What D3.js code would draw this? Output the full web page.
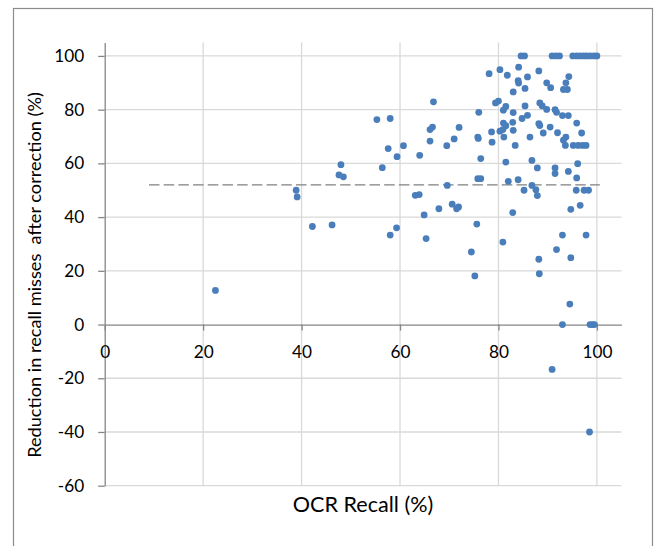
<!DOCTYPE html>
<html>
<head>
<meta charset="utf-8">
<script src="https://cdn.jsdelivr.net/npm/d3@7"></script>
<style>
  body { margin: 0; background: #fff; }
  text { font-family: Lato, "Open Sans", sans-serif; fill: #000; }
</style>
</head>
<body>
<svg id="chart" width="655" height="546"></svg>
<script>
// OCR recall (%) vs reduction in recall misses after correction (%)
const recall = [
  22.5, 38.9, 39.1, 42.2, 46.2, 48.0, 47.6, 48.5, 55.3, 58.0,
  57.6, 56.4, 59.4, 60.7, 58.0, 59.3, 64.0, 63.1, 63.9, 64.9,
  65.3, 66.1, 66.1, 66.6, 66.8, 67.9, 69.5, 69.6, 70.6, 71.0,
  71.5, 71.9, 72.0, 74.5, 75.2, 75.6, 75.8, 75.9, 76.0, 76.4,
  75.8, 76.4, 78.1, 78.6, 78.7, 79.4, 80.0, 80.3, 80.3, 80.9,
  81.0, 81.5, 81.1, 81.0, 81.5, 80.9, 81.5, 81.8, 82.0, 82.9,
  83.0, 83.0, 82.9, 83.0, 83.4, 84.1, 84.0, 84.1, 84.0, 84.6,
  85.3, 84.8, 85.4, 85.4, 85.2, 85.9, 85.9, 86.4, 86.8, 86.8,
  87.6, 87.9, 87.9, 88.2, 88.3, 88.2, 88.4, 88.9, 88.2, 88.4,
  89.1, 89.8, 89.8, 90.6, 90.5, 90.9, 91.7, 92.4, 91.5, 91.8,
  91.5, 91.5, 91.8, 92.0, 90.9, 93.0, 93.0, 93.0, 93.2, 93.7,
  94.0, 94.3, 93.2, 93.6, 93.7, 94.2, 94.2, 94.7, 94.7, 94.5,
  95.1, 95.9, 96.6, 97.3, 97.9, 98.6, 99.4, 100.0, 95.2, 96.2,
  97.1, 97.8, 95.9, 96.1, 95.9, 95.8, 97.4, 98.3, 96.6, 96.9,
  97.8, 98.6, 99.1, 99.5, 98.5
];
const reduction = [
  12.7, 50.0, 47.5, 36.5, 37.1, 59.5, 55.7, 55.0, 76.3, 76.7,
  65.5, 58.4, 62.5, 66.6, 33.3, 36.0, 63.0, 48.1, 48.4, 40.8,
  32.0, 68.3, 72.6, 73.5, 82.9, 43.1, 66.6, 51.8, 44.8, 69.1,
  43.1, 43.8, 73.4, 27.0, 18.1, 37.4, 69.8, 69.3, 79.0, 61.8,
  54.3, 54.3, 93.4, 71.7, 67.9, 82.5, 83.2, 94.9, 72.0, 72.6,
  75.0, 74.0, 69.8, 79.8, 81.2, 30.7, 60.5, 92.8, 53.3, 41.7,
  86.6, 78.9, 75.3, 72.3, 66.7, 95.8, 90.8, 89.9, 53.9, 100,
  100, 76.7, 81.4, 87.9, 50.0, 92.2, 77.9, 69.8, 61.1, 51.8,
  50.2, 48.0, 58.3, 24.3, 18.9, 94.4, 82.5, 81.4, 74.8, 74.1,
  71.3, 90.0, 80.1, 88.2, 73.5, 100, 100, 100, 80.0, 79.0,
  58.3, 56.2, 27.9, 71.4, -16.7, 33.3, 0, 77.8, 87.5, 90.0,
  87.5, 92.3, 68.6, 66.7, 69.8, 77.8, 57.0, 42.9, 24.9, 7.6,
  100, 100, 100, 100, 100, 100, 100, 100, 66.7, 66.7,
  66.7, 66.7, 75.0, 59.9, 54.6, 50.0, 50.0, 50.0, 44.4, 71.3,
  33.3, 0, 0, 0, -40.0
];
const xTicks = [0, 20, 40, 60, 80, 100];
const yTicks = [-60, -40, -20, 0, 20, 40, 60, 80, 100];
const meanLevel = 52;          // dashed reference line
const meanSpan = [9.0, 100.6]; // x extent of the dashed line

const svg = d3.select("#chart");
const x = d3.scaleLinear().domain([0, 105]).range([104.7, 621.5]);
const y = d3.scaleLinear().domain([-60, 105]).range([485.7, 42.5]);

const axisColor = "#868686";
const gridColor = "#d9d9d9";

// font size so that a string has a given width
function fitSize(str, width, base) {
  const t = svg.append("text").attr("font-size", base).text(str);
  const w = t.node().getComputedTextLength();
  t.remove();
  return base * width / w;
}
const tickSize = fitSize("100", 30, 20);

// chart border
svg.append("rect")
  .attr("x", 13.5).attr("y", 8.5).attr("width", 639).attr("height", 560)
  .attr("fill", "#fff").attr("stroke", "#8c8c8c").attr("stroke-width", 1.2);

// gridlines
svg.append("g").selectAll("line").data(xTicks.filter((d) => d !== 0)).enter().append("line")
  .attr("x1", (d) => x(d)).attr("x2", (d) => x(d))
  .attr("y1", y(105)).attr("y2", y(-60))
  .attr("stroke", gridColor).attr("stroke-width", 1.3);
svg.append("g").selectAll("line").data(yTicks.filter((d) => d !== 0)).enter().append("line")
  .attr("x1", x(0)).attr("x2", x(105))
  .attr("y1", (d) => y(d)).attr("y2", (d) => y(d))
  .attr("stroke", gridColor).attr("stroke-width", 1.3);

// y axis
const gy = svg.append("g").attr("transform", `translate(${x(0)},0)`)
  .call(d3.axisLeft(y).tickValues(yTicks).tickFormat(String)
    .tickSize(6.5).tickSizeOuter(0).tickPadding(14));
gy.select(".domain").attr("stroke", axisColor).attr("stroke-width", 1.3);
gy.selectAll(".tick line").attr("stroke", axisColor).attr("stroke-width", 1.3);
gy.selectAll(".tick text").attr("font-size", tickSize).attr("font-family", null).attr("fill", "#000");

// x axis through zero
const gx = svg.append("g").attr("transform", `translate(0,${y(0)})`)
  .call(d3.axisBottom(x).tickValues(xTicks).tickFormat(String).tickSize(6).tickSizeOuter(0));
gx.select(".domain").attr("stroke", axisColor).attr("stroke-width", 1.3);
gx.selectAll(".tick line").attr("stroke", axisColor).attr("stroke-width", 1.3);
gx.selectAll(".tick text").attr("font-size", tickSize).attr("font-family", null).attr("fill", "#000")
  .attr("y", 27.8).attr("dy", "0.35em");

// dashed line
svg.append("line")
  .attr("x1", x(meanSpan[0])).attr("x2", x(meanSpan[1]))
  .attr("y1", y(meanLevel)).attr("y2", y(meanLevel))
  .attr("stroke", "#808080").attr("stroke-width", 1.3).attr("stroke-dasharray", "10.5,4.2");

// points
svg.append("g").selectAll("circle").data(recall).enter().append("circle")
  .attr("cx", (d) => x(d)).attr("cy", (d, i) => y(reduction[i]))
  .attr("r", 3.4).attr("fill", "#4a7ebb");

// axis titles
const yTitle = "Reduction in recall misses\u00a0 after correction (%)";
svg.append("text")
  .attr("transform", "translate(35,275) rotate(-90)")
  .attr("text-anchor", "middle").attr("dy", "0.35em")
  .attr("font-size", fitSize(yTitle, 366, 20))
  .text(yTitle);

svg.append("text")
  .attr("x", 363).attr("y", 504.5)
  .attr("text-anchor", "middle").attr("dy", "0.35em")
  .attr("font-size", fitSize("OCR Recall (%)", 140.6, 20))
  .text("OCR Recall (%)");
</script>
</body>
</html>
